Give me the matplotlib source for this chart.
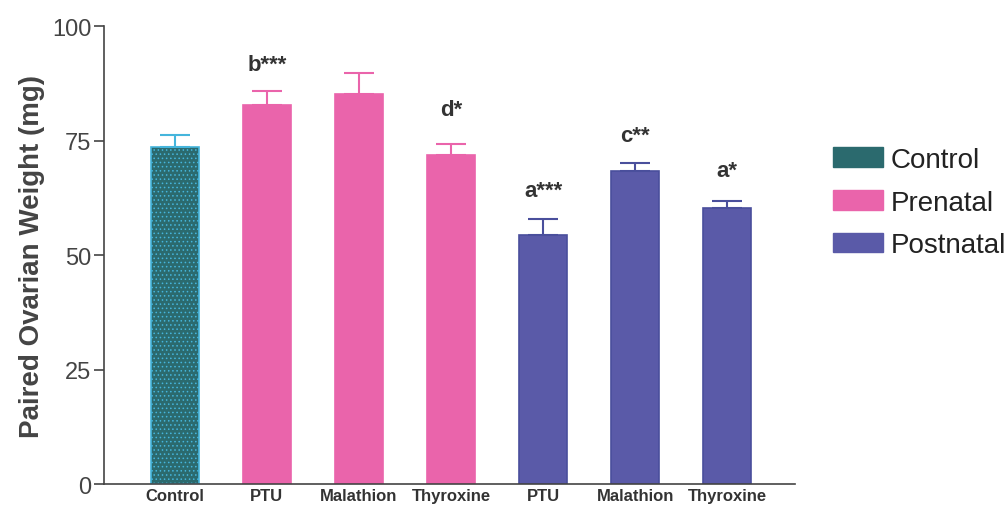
import numpy as np
import matplotlib.pyplot as plt
from matplotlib.patches import Patch

plt.rcParams['font.family'] = ['Liberation Sans', 'DejaVu Sans']
plt.rcParams['hatch.linewidth'] = 0.6

labels = ["Control", "PTU", "Malathion", "Thyroxine", "PTU", "Malathion", "Thyroxine"]
groups = ["Control", "Prenatal", "Prenatal", "Prenatal", "Postnatal", "Postnatal", "Postnatal"]
means = [73.6, 82.8, 85.2, 71.8, 54.4, 68.3, 60.3]
errors = [2.6, 3.0, 4.5, 2.4, 3.5, 1.8, 1.5]
marks = ["", "b***", "", "d*", "a***", "c**", "a*"]
# gap between error cap and significance letter (mg)
mark_pad = [0, 3.6, 0, 5.2, 3.8, 3.6, 4.3]

face = {"Control": "#2b6a6e", "Prenatal": "#ea64ab", "Postnatal": "#5a5aa8"}
edge = {"Control": "#45b5dc", "Prenatal": "#ea64ab", "Postnatal": "#4a4f9c"}

fig = plt.figure(figsize=(10.08, 5.1), dpi=100)
ax = fig.add_axes([0.103, 0.049, 0.686, 0.898])

x = np.arange(len(labels))
for i in x:
    g = groups[i]
    ax.bar(x[i], means[i], width=0.52, color=face[g], edgecolor=edge[g],
           linewidth=1.2, hatch='....' if g == "Control" else None)
    ax.errorbar(x[i], means[i], yerr=[[0], [errors[i]]], fmt='none',
                ecolor=edge[g], elinewidth=1.5, capsize=11, capthick=1.5)
    if marks[i]:
        ax.text(x[i], means[i] + errors[i] + mark_pad[i], marks[i], ha='center',
                va='bottom', fontsize=16, fontweight='bold', color='#333333')

ax.set_xlim(-0.77, 6.74)
ax.set_ylim(0, 100)
ax.set_yticks([0, 25, 50, 75, 100])
ax.set_xticks(x)
ax.set_xticklabels(labels, fontsize=12, fontweight='bold', color='#333333')
ax.tick_params(axis='x', length=0, pad=3)
ax.tick_params(axis='y', labelsize=17, length=7, width=1.2, colors='#444444',
               labelcolor='#444444', pad=2)
ax.set_ylabel("Paired Ovarian Weight (mg)", fontsize=20, fontweight='bold',
              color='#444444', labelpad=5)
for s in ['top', 'right']:
    ax.spines[s].set_visible(False)
for s in ['left', 'bottom']:
    ax.spines[s].set_color('#444444')
    ax.spines[s].set_linewidth(1.2)

handles = [
    Patch(facecolor=face["Control"], edgecolor=face["Control"], hatch='....', label="Control"),
    Patch(facecolor=face["Prenatal"], edgecolor=face["Prenatal"], label="Prenatal"),
    Patch(facecolor=face["Postnatal"], edgecolor=face["Postnatal"], label="Postnatal"),
]
fig.legend(handles=handles, loc='upper left', bbox_to_anchor=(0.826, 0.71),
           frameon=False, fontsize=20, handlelength=1.8, handleheight=0.7,
           handletextpad=0.3, labelspacing=0.6, borderpad=0, borderaxespad=0,
           labelcolor='#222222')

fig.savefig("out.png", dpi=100)
